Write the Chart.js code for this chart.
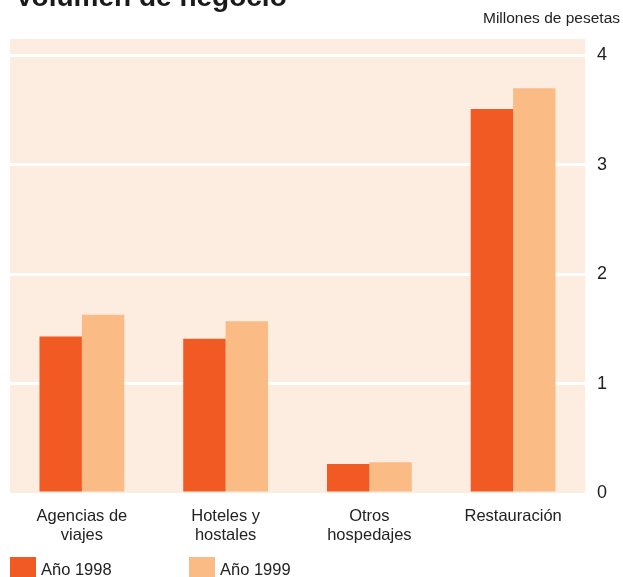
<!DOCTYPE html>
<html>
<head>
<meta charset="utf-8">
<script src="https://cdn.jsdelivr.net/npm/chart.js@4/dist/chart.umd.min.js"></script>
<style>
  html, body { margin: 0; padding: 0; background: #fff; }
  canvas { display: block; }
</style>
</head>
<body>
<canvas id="negocioChart" width="623" height="577"></canvas>
<script>
const categories = [['Agencias de', 'viajes'], ['Hoteles y', 'hostales'], ['Otros', 'hospedajes'], ['Restauración']];
const series1998 = [1.43, 1.41, 0.265, 3.51];
const series1999 = [1.63, 1.57, 0.28, 3.70];
const yTicks = [0, 1, 2, 3, 4];
const seriesLabels = ['Año 1998', 'Año 1999'];

const FONT = "'Liberation Sans', Arial, sans-serif";

// fondo crema del área del gráfico + título, unidad y leyenda
const decor = {
  id: 'decor',
  beforeDraw(chart) {
    const { ctx, chartArea: a } = chart;
    ctx.save();
    ctx.fillStyle = '#fdede0';
    ctx.fillRect(a.left, a.top, a.right - a.left, a.bottom - a.top);
    ctx.restore();
  },
  afterDraw(chart) {
    const ctx = chart.ctx;
    ctx.save();
    ctx.fillStyle = '#1a1a1a';
    ctx.font = 'bold 28px ' + FONT;
    ctx.textBaseline = 'alphabetic';
    ctx.fillText('Volumen de negocio', 15, 6);

    ctx.fillStyle = '#222';
    ctx.font = '15.5px ' + FONT;
    ctx.textAlign = 'right';
    ctx.textBaseline = 'middle';
    ctx.fillText('Millones de pesetas', 620, 19);

    // leyenda
    const xs = [10, 189];
    ctx.textAlign = 'left';
    ctx.font = '16.5px ' + FONT;
    chart.data.datasets.forEach((ds, i) => {
      ctx.fillStyle = ds.backgroundColor;
      ctx.fillRect(xs[i], 557, 26, 22);
      ctx.fillStyle = '#222';
      ctx.fillText(ds.label, xs[i] + 31, 570);
    });
    ctx.restore();
  }
};

new Chart(document.getElementById('negocioChart'), {
  type: 'bar',
  data: {
    labels: categories,
    datasets: [{
      label: seriesLabels[0],
      data: series1998,
      backgroundColor: '#f15a22'
    }, {
      label: seriesLabels[1],
      data: series1999,
      backgroundColor: '#fabb85'
    }]
  },
  options: {
    responsive: false,
    devicePixelRatio: 1,
    animation: false,
    categoryPercentage: 0.59,
    barPercentage: 1,
    layout: { padding: { top: 39, left: 10, right: 0, bottom: 0 } },
    plugins: {
      legend: { display: false },
      tooltip: { enabled: false }
    },
    scales: {
      x: {
        grid: { display: false, drawTicks: false },
        border: { display: false },
        ticks: {
          padding: 14,
          color: '#222',
          font: { family: FONT, size: 16.5, lineHeight: 1.15 }
        },
        afterFit(scale) { scale.height = 84; }
      },
      y: {
        position: 'right',
        min: 0,
        max: 4.15,
        afterBuildTicks(scale) {
          scale.ticks = yTicks.map(v => ({ value: v }));
        },
        afterFit(scale) { scale.width = 38; },
        grid: {
          drawTicks: false,
          lineWidth: 3,
          color: c => (c.tick && c.tick.value === 0 ? 'rgba(0,0,0,0)' : '#ffffff')
        },
        border: { display: false },
        ticks: {
          padding: 12,
          color: '#222',
          font: { family: FONT, size: 18 }
        }
      }
    }
  },
  plugins: [decor]
});
</script>
</body>
</html>
